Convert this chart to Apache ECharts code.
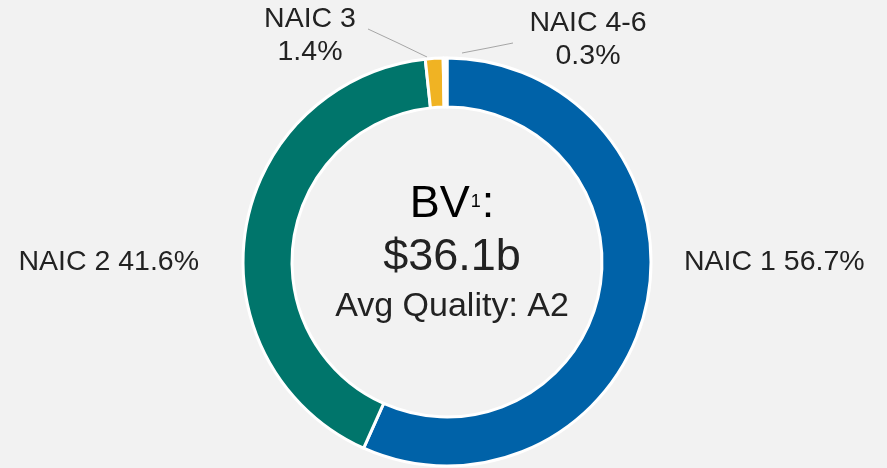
<!DOCTYPE html>
<html>
<head>
<meta charset="utf-8">
<script src="https://cdn.jsdelivr.net/npm/echarts@6/dist/echarts.min.js"></script>
<style>
  html, body { margin: 0; padding: 0; background: #f2f2f2; }
  #chart { width: 887px; height: 468px; }
</style>
</head>
<body>
<div id="chart"></div>
<script>
// slices, clockwise from 12 o'clock
const categories = ['NAIC 1', 'NAIC 2', 'NAIC 3', 'NAIC 4-6']
const shares = [56.7, 41.6, 1.4, 0.3]
const colors = ['#0062a8', '#00756b', '#f0b323', '#ffffff']

const centerTitle = 'BV'
const centerNote = '1'
const centerValue = '$36.1b'
const centerQuality = 'Avg Quality: A2'

const chart = echarts.init(document.getElementById('chart'))

// where each label sits (single-line ones have no leader line)
const labelSpots = [
  { x: 684, y: 262, align: 'left' },
  { x: 199, y: 262, align: 'right' },
  { x: 310, y: 36, align: 'center', line: [[427, 57], [398, 43], [368, 29]] },
  { x: 588, y: 40, align: 'center', line: [[462, 53], [488, 48], [513, 43]] },
]

const pieData = categories.map((name, i) => ({
  name,
  value: shares[i],
  itemStyle: { color: colors[i] },
  label: {
    formatter: i < 2 ? '{b} {c}%' : '{b}\n{c}%',
  },
  labelLine: { show: i >= 2 },
}))

const font = 'Liberation Sans, Arial'
const ink = '#222222'

const option = {
  backgroundColor: '#f2f2f2',
  animation: false,
  graphic: [
    {
      type: 'text',
      style: {
        text: '{a|' + centerTitle + '}{b|' + centerNote + '}{a|:}',
        x: 452,
        y: 205,
        textAlign: 'center',
        textVerticalAlign: 'middle',
        rich: {
          a: { fontSize: 45, fontFamily: font, color: ink, lineHeight: 50 },
          b: { fontSize: 18, fontFamily: font, color: ink, verticalAlign: 'top', lineHeight: 50, padding: [13, 1, 0, 1] },
        },
      },
    },
    {
      type: 'text',
      style: {
        text: centerValue,
        x: 452,
        y: 258,
        textAlign: 'center',
        textVerticalAlign: 'middle',
        fontSize: 45,
        fontFamily: font,
        fill: ink,
      },
    },
    {
      type: 'text',
      style: {
        text: centerQuality,
        x: 452,
        y: 307,
        textAlign: 'center',
        textVerticalAlign: 'middle',
        fontSize: 34,
        fontFamily: font,
        fill: ink,
      },
    },
  ],
  series: [
    {
      type: 'pie',
      center: [447, 262],
      radius: [155, 204],
      startAngle: 90,
      clockwise: true,
      avoidLabelOverlap: false,
      itemStyle: { borderColor: '#ffffff', borderWidth: 3 },
      label: {
        show: true,
        position: 'outside',
        fontSize: 28.5,
        lineHeight: 33,
        fontFamily: font,
        color: ink,
      },
      labelLine: {
        lineStyle: { color: '#a6a6a6', width: 1 },
      },
      labelLayout: (params) => {
        const s = labelSpots[params.dataIndex]
        const out = { x: s.x, y: s.y, align: s.align, verticalAlign: 'middle' }
        if (s.line) out.labelLinePoints = s.line
        return out
      },
      emphasis: { disabled: true },
      data: pieData,
    },
  ],
}

chart.setOption(option)
</script>
</body>
</html>
